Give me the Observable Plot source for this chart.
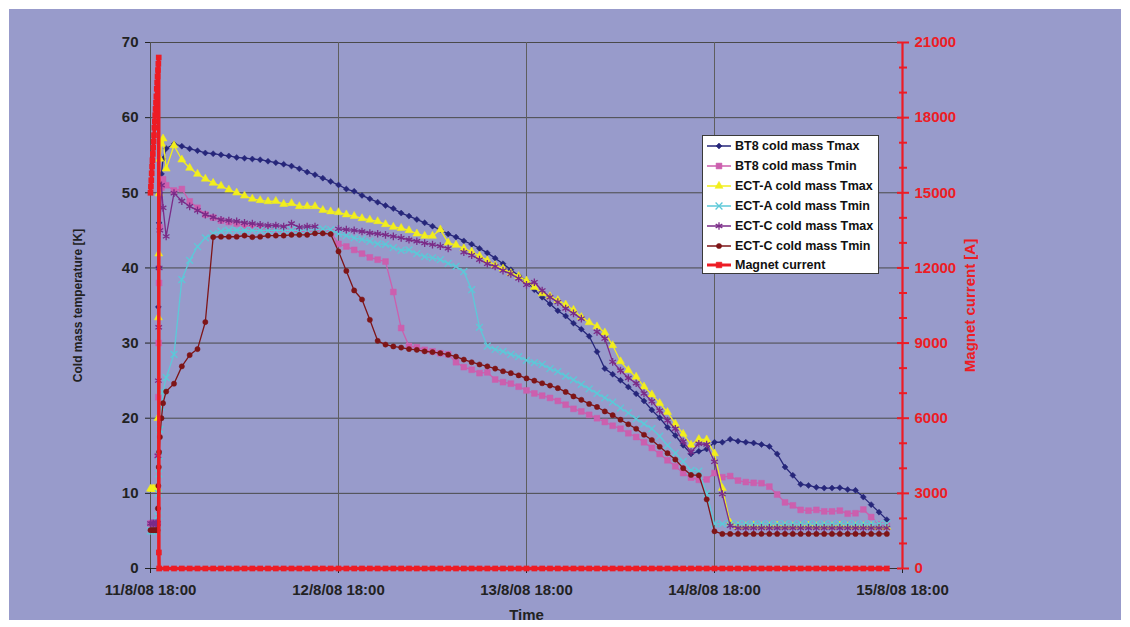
<!DOCTYPE html>
<html><head><meta charset="utf-8">
<script src="https://cdn.jsdelivr.net/npm/d3@7"></script>
<script src="https://cdn.jsdelivr.net/npm/@observablehq/plot@0.6"></script>
<style>
html,body{margin:0;padding:0;background:#fff;}
#wrap{position:relative;width:1130px;height:627px;overflow:hidden;font-family:'Liberation Sans',Arial,sans-serif;}
#chart{position:absolute;left:9px;top:9px;}
#legend{position:absolute;left:702px;top:135px;width:177px;height:139px;background:#fff;border:1px solid #3a3a3a;box-sizing:border-box;}
.row{position:absolute;left:3px;height:20px;display:flex;align-items:center;}
.row span{font-weight:bold;font-size:12.5px;color:#111;margin-left:3px;white-space:nowrap;}
</style></head><body>
<div id="wrap"><div id="chart"></div><div id="legend"></div></div>
<script>
const xTickHours = [0, 24, 48, 72, 96];
const xTickLabels = ["11/8/08 18:00", "12/8/08 18:00", "13/8/08 18:00", "14/8/08 18:00", "15/8/08 18:00"];
const leftTicks = [0, 10, 20, 30, 40, 50, 60, 70];
const rightTicks = [0, 3000, 6000, 9000, 12000, 15000, 18000, 21000];
const rightMinorTicks = [1000, 2000, 4000, 5000, 7000, 8000, 10000, 11000, 13000, 14000, 16000, 17000, 19000, 20000];
const seriesNames = ["BT8 cold mass Tmax", "BT8 cold mass Tmin", "ECT-A cold mass Tmax", "ECT-A cold mass Tmin", "ECT-C cold mass Tmax", "ECT-C cold mass Tmin", "Magnet current"];

// hours after 11/8/08 18:00
const earlyHours = [0, 0.2, 0.4, 0.6, 0.8, 0.9, 0.95, 1.0, 1.05, 1.1, 1.2, 1.4, 1.6, 2.0];
const hours = [3,4,5,6,7,8,9,10,11,12,13,14,15,16,17,18,19,20,21,22,23,24,25,26,27,28,29,30,31,32,33,34,35,36,37,38,39,40,41,42,43,44,45,46,47,48,49,50,51,52,53,54,55,56,57,58,59,60,61,62,63,64,65,66,67,68,69,70,71,72,73,74,75,76,77,78,79,80,81,82,83,84,85,86,87,88,89,90,91,92,93,94];

const bt8TmaxEarly = [6, 6, 6, 6, 6, 6, 20, 34.8, 40.1, 46, 50, 52.5, 54.5, 55.9];
const bt8Tmax = [
  56.5, 56.2, 55.85, 55.6, 55.3, 55.2, 55.05, 54.9, 54.7, 54.6,
  54.5, 54.4, 54.2, 54.0, 53.8, 53.55, 53.2, 52.75, 52.4, 51.95,
  51.5, 51.05, 50.5, 50.2, 49.65, 49.2, 48.75, 48.3, 47.9, 47.3,
  46.9, 46.45, 46.0, 45.55, 45.1, 44.5, 44.1, 43.6, 43.15, 42.6,
  42.0, 41.3, 40.55, 39.75, 39.0, 38.3, 37.1, 36.1, 35.2, 34.3,
  33.6, 32.65, 31.85, 30.9, 28.85, 26.6, 25.85, 25.05, 24.15, 23.25,
  22.3, 21.1, 20.05, 18.8, 17.7, 16.4, 15.25, 15.6, 15.9, 16.8,
  16.8, 17.2, 16.95, 16.8, 16.7, 16.5, 16.25, 15.25, 13.5, 12.4,
  11.2, 11.05, 10.8, 10.7, 10.7, 10.75, 10.5, 10.4, 9.5, 8.5,
  7.5, 6.5];

const bt8TminEarly = [6, 6, 6, 6, 6, 6, 15, 22.8, 30, 38, 45.4, 50.7, 51.8, 51.0];
const bt8Tmin = [
  50.3, 50.5, 48.85, 48.0, 47.1, 46.7, 46.3, 46.1, 45.9, 45.65,
  45.5, 45.35, 45.2, 45.1, 45.1, 45.0, 44.9, 44.95, 44.9, 44.85,
  44.75, 43.2, 42.85, 42.4, 41.9, 41.4, 41.1, 40.85, 36.8, 32.0,
  29.6, 29.45, 29.1, 28.9, 28.65, 28.5, 27.45, 26.8, 26.45, 26.0,
  26.1, 25.15, 24.8, 24.6, 24.2, 23.7, 23.3, 23.0, 22.7, 22.3,
  21.8, 21.25, 20.9, 20.45, 20.0, 19.5, 19.0, 18.6, 18.0, 17.5,
  16.8, 16.05, 15.25, 14.4, 13.6, 12.7, 12.1, 11.8, 11.85, 12.7,
  12.15, 12.3, 11.7, 11.5, 11.4, 11.35, 10.9, 9.85, 8.8, 8.4,
  7.8, 7.7, 7.8, 7.6, 7.6, 7.7, 7.3, 7.35, 7.85, 6.85,
  5.85, 5.7];

const ectaTmaxEarly = [10.6, 10.6, 10.6, 10.6, 10.6, 10.6, 20, 33.4, 41.9, 49.9, 54.5, 56.5, 57.2, 53.2];
const ectaTmax = [
  56.3, 54.4, 53.3, 52.5, 51.85, 51.3, 50.9, 50.4, 50.0, 49.6,
  49.2, 49.0, 48.85, 48.9, 48.5, 48.6, 48.2, 48.2, 48.2, 47.7,
  47.5, 47.4, 47.1, 46.9, 46.6, 46.4, 46.2, 45.8, 45.45, 45.3,
  45.0, 44.55, 44.25, 44.25, 45.1, 43.35, 43.05, 42.6, 42.15, 41.6,
  41.0, 40.35, 39.9, 39.3, 38.9, 38.3, 37.45, 36.6, 36.2, 35.7,
  35.1, 34.4, 33.45, 32.75, 32.2, 31.4, 29.7, 27.55, 26.4, 25.5,
  24.2, 23.15, 22.0, 20.8, 19.25, 17.9, 16.45, 17.2, 17.15, 15.3,
  10.7, 6.1, 5.6, 5.6, 5.7, 5.6, 5.6, 5.7, 5.6, 5.6,
  5.6, 5.7, 5.6, 5.6, 5.6, 5.7, 5.6, 5.6, 5.6, 5.6,
  5.5, 5.5];

const ectaTminEarly = [5, 5, 5, 5, 5, 5, 7, 10, 12.6, 15, 18.5, 21.5, 23.5, 25.4];
const ectaTmin = [
  28.5, 38.45, 41.0, 42.85, 44.0, 44.55, 44.9, 45.0, 45.0, 45.0,
  45.0, 45.0, 45.0, 45.05, 45.0, 45.05, 45.0, 45.05, 45.1, 45.2,
  45.1, 44.55, 44.3, 44.0, 43.8, 43.55, 43.2, 43.15, 42.7, 42.35,
  42.4, 41.9, 41.5, 41.35, 41.1, 40.6, 40.2, 39.5, 37.1, 32.1,
  29.6, 29.15, 28.9, 28.5, 28.2, 27.7, 27.4, 27.15, 26.6, 26.2,
  25.6, 25.1, 24.5, 23.9, 23.3, 22.7, 22.15, 21.35, 20.7, 19.9,
  19.25, 18.6, 17.6, 16.4, 15.35, 14.25, 13.05, 12.95, 10.0, 5.95,
  5.95, 5.95, 5.95, 5.95, 5.95, 5.95, 5.95, 5.95, 5.95, 5.95,
  5.95, 5.95, 5.95, 5.95, 5.95, 5.95, 5.95, 5.95, 5.95, 5.95,
  5.95, 5.95];

const ectcTmaxEarly = [6, 6, 6, 6, 6, 6, 15, 25, 32.1, 40, 45, 51, 48, 44.2];
const ectcTmax = [
  49.95, 48.9, 48.2, 47.65, 47.1, 46.75, 46.4, 46.3, 46.2, 46.0,
  45.9, 45.75, 45.65, 45.65, 45.5, 45.9, 45.4, 45.5, 45.5, null,
  null, 45.2, 45.1, 45.0, 44.85, 44.65, 44.55, 44.4, 44.2, 44.0,
  43.75, 43.55, 43.3, 43.1, 42.9, 42.6, null, 42.1, 41.7, 41.1,
  40.55, 40.2, 39.65, 39.2, 38.6, 37.75, 38.1, 37.0, 36.1, 35.45,
  34.6, 33.95, 33.25, null, 31.5, 30.6, 27.5, 26.35, 25.35, 24.65,
  23.3, 22.25, 21.0, 19.7, 18.6, 16.9, 15.5, 16.6, 16.5, 14.2,
  9.9, 5.7, 5.4, 5.4, 5.4, 5.4, 5.4, 5.4, 5.4, 5.4,
  5.4, 5.4, 5.4, 5.4, 5.4, 5.4, 5.4, 5.4, 5.4, 5.4,
  5.4, 5.4];

const ectcTminEarly = [5.1, 5.1, 5.1, 5.1, 5.1, 5.1, 8, 11, 13.5, 15.5, 17.5, 20, 22, 23.55];
const ectcTmin = [
  24.6, 26.9, 28.4, 29.2, 32.8, 44.1, 44.15, 44.15, 44.15, 44.3,
  44.1, 44.15, 44.3, 44.3, 44.3, 44.4, 44.4, 44.4, 44.6, 44.6,
  44.5, 42.2, 39.6, 37.0, 35.8, 33.1, 30.3, 29.8, 29.55, 29.4,
  29.2, 29.1, 28.9, 28.8, 28.65, 28.45, 28.2, 27.8, 27.45, 27.15,
  26.9, 26.6, 26.25, 26.0, 25.7, 25.3, 25.0, 24.65, 24.35, 24.0,
  23.5, 22.9, 22.45, 21.9, 21.5, 20.9, 20.4, 19.8, 19.2, 18.6,
  17.8, 17.1, 16.2, 15.35, 14.5, 13.35, 12.45, 12.4, 9.2, 4.95,
  4.6, 4.6, 4.6, 4.6, 4.6, 4.6, 4.6, 4.6, 4.6, 4.6,
  4.6, 4.6, 4.6, 4.6, 4.6, 4.6, 4.6, 4.6, 4.6, 4.6,
  4.6, 4.6];

const currentEarlyHours = [0, 0.05, 0.1, 0.15, 0.2, 0.25, 0.3, 0.35, 0.4, 0.45, 0.5, 0.55, 0.6, 0.65, 0.7, 0.75, 0.8, 0.85, 0.9, 0.95, 1.0, 1.05, 1.07, 1.1, 2];
const currentEarly = [15000, 15250, 15500, 15780, 16050, 16300, 16550, 16800, 17050, 17300, 17600, 17850, 18100, 18350, 18600, 18850, 19150, 19400, 19650, 19900, 20150, 20400, 640, 0, 0];
const current = [
  0,0,0,0,0,0,0,0,0,0, 0,0,0,0,0,0,0,0,0,0, 0,0,0,0,0,0,0,0,0,0,
  0,0,0,0,0,0,0,0,0,0, 0,0,0,0,0,0,0,0,0,0, 0,0,0,0,0,0,0,0,0,0,
  0,0,0,0,0,0,0,0,0,0, 0,0,0,0,0,0,0,0,0,0, 0,0,0,0,0,0,0,0,0,0,
  0,0];

const red = "#ED1C24";
const styles = [
  {color: "#26267A", symbol: "diamond2", r: 2.7, filled: true},
  {color: "#CC5FAE", symbol: "square", r: 3.3, filled: true},
  {color: "#F2EE1C", symbol: "triangle", r: 3.0, filled: true},
  {color: "#5CC9D8", symbol: "times", r: 3.2, filled: false},
  {color: "#7B2C88", symbol: "asterisk", r: 3.6, filled: false},
  {color: "#7E1517", symbol: "circle", r: 2.6, filled: true}
];
const earlyList = [bt8TmaxEarly, bt8TminEarly, ectaTmaxEarly, ectaTminEarly, ectcTmaxEarly, ectcTminEarly];
const mainList = [bt8Tmax, bt8Tmin, ectaTmax, ectaTmin, ectcTmax, ectcTmin];

function rows(tE, early, tM, main) {
  const out = tE.map((h, i) => ({h, v: early[i]}));
  tM.forEach((h, i) => out.push({h, v: main[i]}));
  return out;
}
const ratio = rightTicks[rightTicks.length - 1] / leftTicks[leftTicks.length - 1];

const marks = [
  Plot.gridY(leftTicks.slice(1), {stroke: "#4a4a4a", strokeOpacity: 1}),
  Plot.gridX(xTickHours.slice(1, -1), {stroke: "#5e5e5e", strokeOpacity: 1}),
  Plot.ruleX([xTickHours[0]], {stroke: "#505050"}),
  Plot.ruleY([leftTicks[0]], {stroke: "#333"}),
  Plot.axisY({ticks: leftTicks, anchor: "left", tickSize: 5, tickPadding: 7, color: "#222", fontSize: 15, fontWeight: "bold", label: null}),
  Plot.axisX({ticks: xTickHours, anchor: "bottom", tickSize: 5, tickPadding: 11, color: "#222", fontSize: 15, fontWeight: "bold", label: null,
    tickFormat: d => xTickLabels[xTickHours.indexOf(d)]}),
  Plot.text(["Cold mass temperature [K]"], {text: d => d, frameAnchor: "left", textAnchor: "middle", rotate: -90, dx: -72, fontSize: 12, fontWeight: "bold", fill: "#222"}),
  Plot.text(["Time"], {text: d => d, frameAnchor: "bottom", textAnchor: "middle", dy: 51, fontSize: 15, fontWeight: "bold", fill: "#222"}),
  Plot.text(["Magnet current [A]"], {text: d => d, frameAnchor: "right", textAnchor: "middle", rotate: -90, dx: 68, fontSize: 15, fontWeight: "bold", fill: red})
];

styles.forEach((s, k) => {
  const data = rows(earlyHours, earlyList[k], hours, mainList[k]);
  marks.push(Plot.line(data, {x: "h", y: "v", stroke: s.color, strokeWidth: 1.3}));
  marks.push(Plot.dot(data, s.filled
    ? {x: "h", y: "v", symbol: s.symbol, r: s.r, fill: s.color, stroke: s.color, strokeWidth: 0.5}
    : {x: "h", y: "v", symbol: s.symbol, r: s.r, stroke: s.color, strokeWidth: 1.3}));
});

const currentRows = rows(currentEarlyHours, currentEarly, hours, current);
marks.push(Plot.line(currentRows, {x: "h", y: d => d.v / ratio, stroke: red, strokeWidth: 3.5}));
marks.push(Plot.dot(currentRows, {x: "h", y: d => d.v / ratio, symbol: "square", r: 3.2, fill: red}));

marks.push(Plot.ruleX([xTickHours[xTickHours.length - 1]], {stroke: red, strokeWidth: 2.2}));
marks.push(Plot.axisY({ticks: rightTicks.map(v => v / ratio), anchor: "right", tickSize: 6, tickPadding: 6, color: red, strokeWidth: 2,
  fontSize: 15, fontWeight: "bold", label: null, tickFormat: d => String(Math.round(d * ratio))}));
marks.push(Plot.axisY({ticks: rightTicks.map(v => v / ratio), anchor: "right", tickSize: 6, dx: -6, color: red, strokeWidth: 2, label: null, tickFormat: () => ""}));
marks.push(Plot.axisY({ticks: rightMinorTicks.map(v => v / ratio), anchor: "right", tickSize: 8, dx: -4, color: red, strokeWidth: 2, label: null, tickFormat: () => ""}));

const chart = Plot.plot({
  width: 1112, height: 611,
  marginLeft: 141, marginRight: 219, marginTop: 33, marginBottom: 52,
  style: {background: "#989BCB", fontFamily: "'Liberation Sans', Arial, sans-serif", overflow: "visible"},
  x: {domain: [xTickHours[0], xTickHours[xTickHours.length - 1]], label: null},
  y: {domain: [leftTicks[0], leftTicks[leftTicks.length - 1]], label: null},
  marks
});
document.getElementById("chart").appendChild(chart);

// legend
const legend = d3.select("#legend");
const symMap = {diamond2: d3.symbolDiamond2, square: d3.symbolSquare, triangle: d3.symbolTriangle, times: d3.symbolTimes, asterisk: d3.symbolAsterisk, circle: d3.symbolCircle};
const legendItems = styles.map((s, k) => ({name: seriesNames[k], ...s, lw: 1.5}))
  .concat([{name: seriesNames[6], color: red, symbol: "square", r: 3.2, filled: true, lw: 3}]);
legendItems.forEach((it, i) => {
  const row = legend.append("div").attr("class", "row").style("top", (i * 19.9) + "px");
  const svg = row.append("svg").attr("width", 26).attr("height", 20);
  svg.append("line").attr("x1", 1).attr("x2", 25).attr("y1", 10).attr("y2", 10).attr("stroke", it.color).attr("stroke-width", it.lw);
  svg.append("path").attr("transform", "translate(13,10)")
    .attr("d", d3.symbol(symMap[it.symbol], Math.PI * it.r * it.r)())
    .attr("fill", it.filled ? it.color : "none").attr("stroke", it.color).attr("stroke-width", it.filled ? 0.5 : 1.3);
  row.append("span").text(it.name);
});
</script></body></html>
